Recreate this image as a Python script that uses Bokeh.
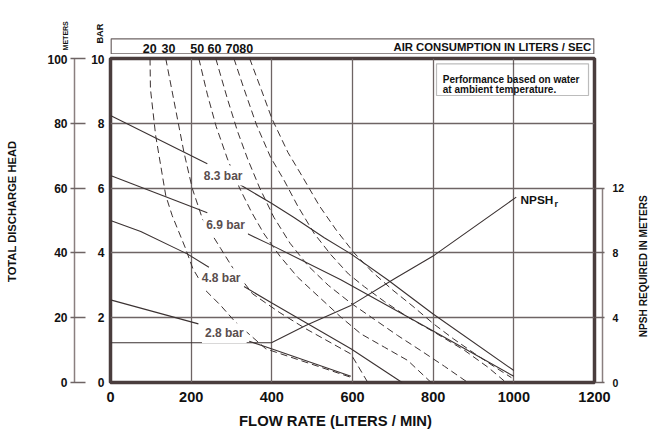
import numpy as np
from bokeh.plotting import figure
from bokeh.models import LinearAxis, Range1d, FixedTicker, Label, BoxAnnotation
from bokeh.layouts import column, row
from bokeh.core.properties import value
from bokeh.embed import file_html
from bokeh.resources import INLINE

FONT = "Liberation Sans"
INK = "#3b3232"
GRID = "#6e6464"
TXT = "#111111"
LBL = "#5a4e4e"

# ---------------- data ----------------
flow_ticks = [0, 200, 400, 600, 800, 1000, 1200]
bar_ticks = [0, 2, 4, 6, 8, 10]
meter_ticks = [0, 20, 40, 60, 80, 100]
npsh_ticks = [0, 4, 8, 12]

# solid pressure curves (flow l/min, head bar) - split where the label sits
p83_a_x = [0, 240]
p83_a_y = [8.24, 6.75]
p83_b_x = [315, 399, 454, 530, 596, 687, 799, 1000]
p83_b_y = [6.15, 5.53, 5.10, 4.47, 3.97, 3.17, 2.12, 0.37]

p69_a_x = [0, 240]
p69_a_y = [6.39, 5.24]
p69_b_x = [340, 399, 571, 799, 1000]
p69_b_y = [4.59, 4.24, 3.17, 1.60, 0.19]

p48_a_x = [0, 75, 190, 244]
p48_a_y = [5.00, 4.66, 3.97, 3.56]
p48_b_x = [331, 399, 596, 723]
p48_b_y = [2.96, 2.46, 1.04, 0.00]

p28_a_x = [0, 218]
p28_a_y = [2.55, 1.81]
p28_b_x = [344, 399, 596]
p28_b_y = [1.27, 1.04, 0.19]

pressure_labels = ["8.3 bar", "6.9 bar", "4.8 bar", "2.8 bar"]

# air consumption curves (dashed)
air_labels = ["20", "30", "50", "60", "70", "80"]
a20_x = [98, 99, 112, 137, 153, 186, 204, 236, 273, 310, 385, 596]
a20_y = [10, 9.07, 7.62, 5.77, 5.15, 4.14, 3.52, 2.84, 2.38, 1.86, 1.04, 0.16]
a30_x = [137, 182, 203, 228, 253, 273, 302, 352, 418, 484, 596, 638]
a30_y = [10, 7.11, 5.98, 5.05, 4.54, 4.14, 3.56, 2.74, 2.17, 1.66, 0.88, 0.0]
a50_x = [219, 240, 262, 290, 320, 350, 380, 420, 464, 571, 621, 679, 737, 795]
a50_y = [10, 8.9, 7.9, 6.9, 6.0, 5.25, 4.6, 3.9, 3.25, 2.02, 1.5, 1.09, 0.68, 0.0]
a60_x = [261, 290, 315, 340, 370, 405, 445, 490, 540, 596, 654, 712, 770, 828, 886]
a60_y = [10, 8.75, 7.75, 6.9, 6.0, 5.1, 4.3, 3.6, 3.0, 2.45, 1.95, 1.45, 0.98, 0.5, 0.0]
a70_x = [306, 330, 362, 397, 430, 464, 505, 546, 590, 630, 679, 737, 803, 878, 936, 976]
a70_y = [10, 9.1, 7.95, 6.95, 6.25, 5.45, 4.6, 3.95, 3.35, 2.95, 2.5, 2.02, 1.55, 0.99, 0.47, 0.05]
a80_x = [345, 375, 400, 440, 476, 518, 560, 604, 650, 700, 750, 802, 850, 902, 950, 994]
a80_y = [10, 9.0, 8.15, 7.1, 6.35, 5.45, 4.7, 4.0, 3.4, 2.85, 2.35, 1.8, 1.35, 0.9, 0.5, 0.15]

# NPSH required (metres)
npsh_x = [0, 399, 484, 596, 704, 803, 1006]
npsh_y = [2.45, 2.45, 3.52, 4.76, 6.40, 7.86, 11.44]

# ---------------- layout geometry (page pixels) ----------------
W, H = 666, 432
TOP_H, BOT_H, LEFT_W, RIGHT_W = 54, 24, 30, 34
MID_H = H - TOP_H - BOT_H
FR_L, FR_R, FR_T, FR_B = 110, 594, 58, 382


def X(px):  # page px -> flow units
    return (px - FR_L) * 1200.0 / (FR_R - FR_L)


def Y(py):  # page px -> bar units
    return (FR_B - py) / ((FR_B - FR_T) / 10.0)


def strip(w, h, x0, y0):
    f = figure(width=w, height=h, x_range=Range1d(x0, x0 + w), y_range=Range1d(y0 + h, y0),
               output_backend="svg", toolbar_location=None,
               x_axis_location=None, y_axis_location=None,
               min_border_left=0, min_border_right=0, min_border_top=0, min_border_bottom=0)
    f.grid.visible = False
    f.outline_line_color = None
    f.background_fill_color = "white"
    f.border_fill_color = "white"
    return f


def stext(f, x, y, t, size, align="left", angle=0.0, color=TXT):
    f.text(x=[x], y=[y], text=[t], angle=angle, text_font=value(FONT), text_font_style=value("bold"),
           text_font_size=value(size), text_align=value(align), text_baseline=value("middle"),
           text_color=color)


# ---------------- main figure ----------------
p = figure(width=W - LEFT_W - RIGHT_W, height=MID_H, x_range=Range1d(0, 1200), y_range=Range1d(0, 10),
           output_backend="svg", toolbar_location=None,
           min_border_left=FR_L - LEFT_W, min_border_right=(W - RIGHT_W) - FR_R,
           min_border_top=FR_T - TOP_H, min_border_bottom=(H - BOT_H) - FR_B)
p.extra_y_ranges = {"m": Range1d(0, 100), "n": Range1d(0, 20)}
p.background_fill_color = "white"
p.border_fill_color = "white"
p.outline_line_color = "#4a3d3d"
p.outline_line_width = 3.5
p.outline_line_alpha = 1.0


def style_axis(ax, size):
    ax.major_label_text_font = FONT
    ax.major_label_text_font_style = "bold"
    ax.major_label_text_font_size = size
    ax.major_label_text_color = TXT
    ax.minor_tick_line_color = None
    ax.minor_tick_out = 0
    ax.minor_tick_in = 0


def spacer(rng, width, tick):
    s = LinearAxis(y_range_name=rng, ticker=FixedTicker(ticks=[tick]), major_tick_out=width, major_tick_in=0,
                   major_tick_line_color=None, axis_line_color=None, minor_tick_line_color=None,
                   major_label_standoff=0, major_label_text_color=None, major_label_text_font_size="1px",
                   minor_tick_out=0, minor_tick_in=0)
    return s


# bottom axis
xa = p.xaxis[0]
xa.ticker = FixedTicker(ticks=flow_ticks)
xa.axis_line_color = None
xa.major_tick_line_color = None
xa.major_tick_out = 0
xa.major_tick_in = 0
xa.major_label_standoff = 9
style_axis(xa, "14.5px")

# BAR axis (next to frame)
ba = p.yaxis[0]
ba.ticker = FixedTicker(ticks=bar_ticks)
ba.axis_line_color = None
ba.major_tick_line_color = None
ba.major_tick_out = 0
ba.major_tick_in = 0
ba.major_label_standoff = 6
style_axis(ba, "12px")

# spacer + METERS axis
p.add_layout(spacer("m", 14, 50), "left")
ma = LinearAxis(y_range_name="m", ticker=FixedTicker(ticks=meter_ticks), bounds=(0, 100))
ma.axis_line_color = "#8a7f7f"
ma.axis_line_width = 1.5
ma.major_tick_line_color = "#6e6464"
ma.major_tick_line_width = 1.3
ma.major_tick_out = 4
ma.major_tick_in = 11
ma.major_label_standoff = 3
style_axis(ma, "12px")
p.add_layout(ma, "left")

# spacer + NPSH axis
p.add_layout(spacer("n", 8, 10), "right")
na = LinearAxis(y_range_name="n", ticker=FixedTicker(ticks=npsh_ticks), bounds=(0, 12))
na.axis_line_color = "#8a7f7f"
na.axis_line_width = 1.5
na.major_tick_line_color = "#6e6464"
na.major_tick_line_width = 1.3
na.major_tick_out = 2
na.major_tick_in = 7
na.major_label_standoff = 8
style_axis(na, "10.5px")
p.add_layout(na, "right")

# grid
p.xgrid.grid_line_color = GRID
p.xgrid.grid_line_width = 1.3
p.ygrid.grid_line_color = GRID
p.ygrid.grid_line_width = 1.3

# curves
dash = dict(line_color=INK, line_width=1.0, line_dash="7 4")
for cx, cy in [(a20_x, a20_y), (a30_x, a30_y), (a50_x, a50_y), (a60_x, a60_y), (a70_x, a70_y), (a80_x, a80_y)]:
    p.line(cx, cy, **dash)

solid = dict(line_color=INK, line_width=1.1)
for cx, cy in [(p83_a_x, p83_a_y), (p83_b_x, p83_b_y), (p69_a_x, p69_a_y), (p69_b_x, p69_b_y),
               (p48_a_x, p48_a_y), (p48_b_x, p48_b_y), (p28_a_x, p28_a_y), (p28_b_x, p28_b_y)]:
    p.line(cx, cy, **solid)

p.line(npsh_x, npsh_y, y_range_name="n", **solid)


def lab(x, y, text, size, align="left", color=TXT, **kw):
    p.add_layout(Label(x=x, y=y, text=text, text_font=FONT, text_font_style="bold",
                       text_font_size=size, text_align=align, text_baseline="middle",
                       text_color=color, **kw))


for t, (cx, cy) in zip(pressure_labels, [(222.7, 175), (225, 224.7), (220.7, 277.7), (223.8, 332.8)]):
    lab(X(cx), Y(cy), t, "12px", align="center", color=LBL,
        background_fill_color="white", padding=3)

# note box
p.add_layout(BoxAnnotation(left=X(436), right=X(588), bottom=Y(95), top=Y(63.3),
                           fill_alpha=0, line_color="#222222", line_width=1.2))
lab(X(442.3), Y(78.8), "Performance based on water", "10px")
lab(X(442.3), Y(88.8), "at ambient temperature.", "10px")

# NPSHr label
lab(X(520), Y(199.9), "NPSH", "11.8px")
lab(X(554), Y(203.5), "r", "9px")

# ---------------- surrounding strips ----------------
top = strip(W, TOP_H, 0, 0)
top.quad(left=[110.7], right=[593.3], top=[38.3], bottom=[53.3], fill_color=None,
         line_color=GRID, line_width=1.2)
for t, cx in zip(air_labels, [149.3, 168, 196.7, 214, 232, 245.8]):
    stext(top, cx, 47.5, t, "12.5px", align="center")
stext(top, 590.7, 46.7, "AIR CONSUMPTION IN LITERS / SEC", "11.3px", align="right")
stext(top, 65, 35.3, "METERS", "7px", align="center", angle=np.pi / 2)
stext(top, 99, 33.1, "BAR", "9.2px", align="center", angle=np.pi / 2)

left = strip(LEFT_W, MID_H, 0, TOP_H)
stext(left, 11, 221, "TOTAL DISCHARGE HEAD", "11.2px", align="center", angle=np.pi / 2)

right = strip(RIGHT_W, MID_H, W - RIGHT_W, TOP_H)
stext(right, 642.5, 281, "NPSH REQUIRED IN METERS", "10.1px", align="center", angle=np.pi / 2)

bottom = strip(W, BOT_H, 0, H - BOT_H)
stext(bottom, 335, 420, "FLOW RATE (LITERS / MIN)", "14.8px", align="center")

layout = column(top, row(left, p, right), bottom)

open("out.html", "w").write(file_html(layout, INLINE))
